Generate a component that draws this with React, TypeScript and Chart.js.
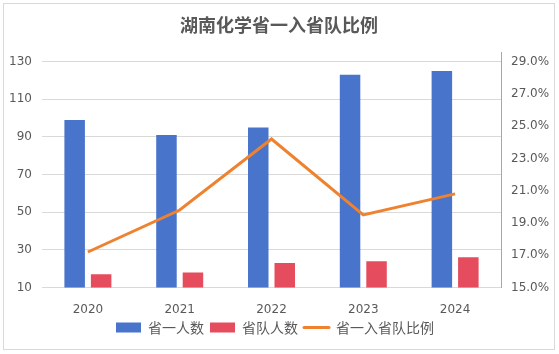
import React, { useEffect, useRef } from "react";
import { Chart, registerables } from "chart.js";

Chart.register(...registerables);

const TITLE = "湖南化学省一入省队比例";
const CATEGORIES = ["2020", "2021", "2022", "2023", "2024"];
const SERIES_NAMES = ["省一人数", "省队人数", "省一入省队比例"];
const PROVINCE_FIRST = [99, 91, 95, 123, 125];
const PROVINCE_TEAM = [17, 18, 23, 24, 26];
const RATIO_PCT = [17.2, 19.8, 24.2, 19.5, 20.8];
const LEFT_TICKS = [10, 30, 50, 70, 90, 110, 130];
const RIGHT_TICKS = [15, 17, 19, 21, 23, 25, 27, 29];

const BLUE = "#4874CB";
const RED = "#E54C5E";
const ORANGE = "#EE822F";
const TEXT = "#595959";
const GRID = "#d9d9d9";

const shiftLegend = {
  id: "shiftLegend",
  afterLayout(chart: any) {
    const l = chart.legend;
    if (l) {
      l.left -= 4;
      l.right -= 4;
    }
  },
};

export default function App() {
  const ref = useRef<HTMLCanvasElement | null>(null);

  useEffect(() => {
    const canvas = ref.current;
    if (!canvas) return;
    const tickFont = { family: "'DejaVu Sans', sans-serif", size: 12 };
    const chart = new Chart(canvas, {
      data: {
        labels: CATEGORIES,
        datasets: [
          {
            type: "bar",
            label: SERIES_NAMES[0],
            data: PROVINCE_FIRST,
            backgroundColor: BLUE,
            yAxisID: "y",
            order: 1,
            categoryPercentage: 0.577,
            barPercentage: 0.774,
          },
          {
            type: "bar",
            label: SERIES_NAMES[1],
            data: PROVINCE_TEAM,
            backgroundColor: RED,
            yAxisID: "y",
            order: 1,
            categoryPercentage: 0.577,
            barPercentage: 0.774,
          },
          {
            type: "line",
            label: SERIES_NAMES[2],
            data: RATIO_PCT,
            borderColor: ORANGE,
            backgroundColor: ORANGE,
            borderWidth: 3,
            pointRadius: 0,
            pointHoverRadius: 0,
            tension: 0,
            yAxisID: "y1",
            order: 0,
          },
        ],
      } as any,
      options: {
        animation: false,
        responsive: false,
        devicePixelRatio: 1,
        layout: { padding: { top: 0, left: 0, right: 0, bottom: 4.5 } },
        plugins: {
          tooltip: { enabled: false },
          title: {
            display: true,
            text: TITLE,
            color: TEXT,
            font: { family: "'Noto Sans CJK SC', sans-serif", size: 18, weight: "bold" },
            padding: { top: 10, bottom: 17.1 },
          },
          legend: {
            display: true,
            position: "bottom",
            labels: {
              usePointStyle: true,
              pointStyleWidth: 25,
              boxHeight: 10,
              padding: 6,
              color: TEXT,
              font: { family: "'Noto Sans CJK SC', sans-serif", size: 14 },
              generateLabels(c: any) {
                const items = (Chart.defaults.plugins.legend.labels as any).generateLabels(c);
                items.forEach((it: any) => {
                  if (it.datasetIndex === 2) {
                    it.pointStyle = "line";
                    it.lineWidth = 3;
                    it.strokeStyle = ORANGE;
                    it.fillStyle = ORANGE;
                    it.lineCap = "round";
                  } else {
                    it.pointStyle = "rect";
                    it.lineWidth = 0;
                  }
                });
                return items.sort((a: any, b: any) => a.datasetIndex - b.datasetIndex);
              },
            },
          },
        },
        scales: {
          x: {
            grid: { display: false, drawTicks: false },
            border: { display: false },
            ticks: { color: TEXT, font: tickFont, padding: 15, maxRotation: 0 },
            afterFit: (s: any) => {
              s.height = 27;
            },
          },
          y: {
            position: "left",
            min: 10,
            max: 134.7,
            afterBuildTicks: (s: any) => {
              s.ticks = LEFT_TICKS.map((v) => ({ value: v }));
            },
            grid: { color: GRID, lineWidth: 1, drawTicks: false },
            border: { display: false },
            ticks: { color: TEXT, font: tickFont, padding: 10 },
            afterFit: (s: any) => {
              s.width = 38;
            },
          },
          y1: {
            position: "right",
            min: 15,
            max: 29.55,
            afterBuildTicks: (s: any) => {
              s.ticks = RIGHT_TICKS.map((v) => ({ value: v }));
            },
            grid: { display: false, drawOnChartArea: false, drawTicks: false },
            border: { display: true, color: "#a6a6a6", width: 1 },
            ticks: {
              color: TEXT,
              font: tickFont,
              padding: 10,
              callback: (v: any) => Number(v).toFixed(1) + "%",
            },
            afterFit: (s: any) => {
              s.width = 53;
            },
          },
        },
      } as any,
      plugins: [shiftLegend],
    });
    return () => chart.destroy();
  }, []);

  return (
    <div
      style={{
        position: "absolute",
        left: 3,
        top: 3,
        width: 552,
        height: 347,
        boxSizing: "border-box",
        border: "1px solid #d9d9d9",
        background: "#fff",
      }}
    >
      <canvas ref={ref} width={550} height={345} style={{ display: "block", width: 550, height: 345 }} />
    </div>
  );
}
